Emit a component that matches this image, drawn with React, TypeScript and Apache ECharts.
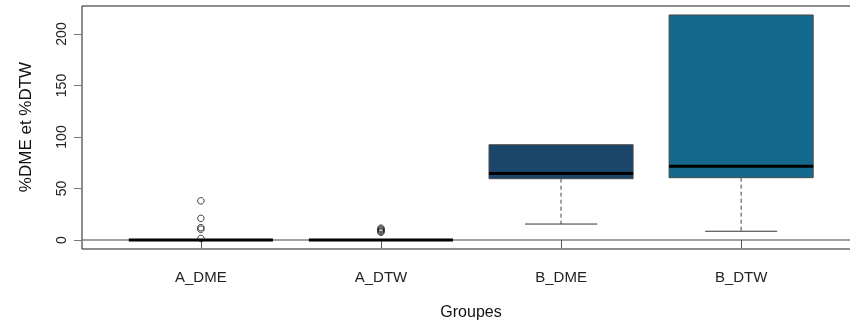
import React, { useEffect, useRef } from "react";
import * as echarts from "echarts";

const categories = ["A_DME", "A_DTW", "B_DME", "B_DTW"];
const lowerWhisker = [0, 0, 15.5, 8.5];
const q1 = [0, 0, 59.5, 60.5];
const median = [0, 0, 64.5, 71.5];
const q3 = [0, 0, 92.5, 218.5];
const upperWhisker = [0, 0, 92.5, 218.5];
const boxColors = ["#1b4569", "#13698b", "#1b4569", "#13698b"];
const outliersA_DME = [38, 21, 12, 10.5, 1.5];
const outliersA_DTW = [11.5, 10.5, 9.5, 8.5, 7.5];
const yTicks = [0, 50, 100, 150, 200];
const xTicks = [1, 2, 3, 4];
const yTitle = "%DME et %DTW";
const xTitle = "Groupes";

const FONT = "'Liberation Sans', Arial, sans-serif";

export default function App() {
  const ref = useRef<HTMLDivElement>(null);
  useEffect(() => {
    if (!ref.current) return;
    const chart = echarts.init(ref.current, null, { renderer: "svg" });
    const boxData = categories.map((_, i) => [
      i + 1,
      lowerWhisker[i],
      q1[i],
      median[i],
      q3[i],
      upperWhisker[i],
    ]);
    const outlierData: number[][] = [];
    outliersA_DME.forEach((v) => outlierData.push([1, v]));
    outliersA_DTW.forEach((v) => outlierData.push([2, v]));

    chart.setOption({
      animation: false,
      grid: {
        left: 82,
        top: 6,
        width: 778,
        height: 243,
        show: true,
        borderColor: "#1a1a1a",
        borderWidth: 1,
        backgroundColor: "transparent",
        outerBoundsMode: "none",
        containLabel: false,
      },
      xAxis: {
        type: "value",
        min: 0.34,
        max: 4.66,
        splitLine: { show: false },
        axisLine: { show: true, lineStyle: { color: "#808080", width: 1.5 } },
        axisTick: {
          show: true,
          customValues: xTicks,
          length: 8,
          lineStyle: { color: "#555", width: 1 },
        },
        axisLabel: {
          customValues: xTicks,
          formatter: (v: number) => categories[Math.round(v) - 1] ?? "",
          fontFamily: FONT,
          fontSize: 15,
          color: "#222",
          margin: 20,
        },
      },
      yAxis: {
        type: "value",
        min: -8.74,
        max: 227.2,
        splitLine: { show: false },
        axisLine: { show: false },
        axisTick: {
          show: true,
          customValues: yTicks,
          length: 8,
          lineStyle: { color: "#777", width: 1 },
        },
        axisLabel: {
          customValues: yTicks,
          rotate: 90,
          fontFamily: FONT,
          fontSize: 14,
          color: "#222",
          margin: 14,
        },
      },
      graphic: [
        {
          type: "text",
          x: 25,
          y: 127,
          rotation: Math.PI / 2,
          style: {
            text: yTitle,
            fontFamily: FONT,
            fontSize: 17,
            fill: "#111",
            align: "center",
            verticalAlign: "middle",
          },
        },
        {
          type: "text",
          x: 471,
          y: 311,
          style: {
            text: xTitle,
            fontFamily: FONT,
            fontSize: 16,
            fill: "#111",
            align: "center",
            verticalAlign: "middle",
          },
        },
      ],
      series: [
        {
          type: "custom",
          data: boxData,
          renderItem: (params: any, api: any) => {
            const x = api.value(0);
            const lw = api.value(1);
            const b1 = api.value(2);
            const md = api.value(3);
            const b3 = api.value(4);
            const uw = api.value(5);
            const idx = params.dataIndex;
            const half = api.size([0.8, 0])[0] / 2;
            const cap = half / 2;
            const pQ1 = api.coord([x, b1]);
            const pQ3 = api.coord([x, b3]);
            const pMd = api.coord([x, md]);
            const pLw = api.coord([x, lw]);
            const pUw = api.coord([x, uw]);
            const cx = pQ1[0];
            const children: any[] = [];
            if (lw < b1) {
              children.push({
                type: "line",
                shape: { x1: cx, y1: pQ1[1], x2: cx, y2: pLw[1] },
                style: { stroke: "#444", lineWidth: 1, lineDash: [4, 3] },
              });
              children.push({
                type: "line",
                shape: { x1: cx - cap, y1: pLw[1], x2: cx + cap, y2: pLw[1] },
                style: { stroke: "#333", lineWidth: 1 },
              });
            }
            if (uw > b3) {
              children.push({
                type: "line",
                shape: { x1: cx, y1: pQ3[1], x2: cx, y2: pUw[1] },
                style: { stroke: "#444", lineWidth: 1, lineDash: [4, 3] },
              });
              children.push({
                type: "line",
                shape: { x1: cx - cap, y1: pUw[1], x2: cx + cap, y2: pUw[1] },
                style: { stroke: "#333", lineWidth: 1 },
              });
            }
            children.push({
              type: "rect",
              shape: {
                x: cx - half,
                y: pQ3[1],
                width: 2 * half,
                height: Math.max(pQ1[1] - pQ3[1], 0),
              },
              style: { fill: boxColors[idx], stroke: "#4a4a4a", lineWidth: 1 },
            });
            children.push({
              type: "line",
              shape: { x1: cx - half, y1: pMd[1], x2: cx + half, y2: pMd[1] },
              style: { stroke: "#000", lineWidth: 3 },
            });
            return { type: "group", children };
          },
          z: 2,
        },
        {
          type: "scatter",
          data: outlierData,
          symbol: "circle",
          symbolSize: 6.5,
          itemStyle: {
            color: "rgba(255,255,255,0)",
            borderColor: "#111",
            borderWidth: 1,
          },
          z: 3,
        },
      ],
    });
    return () => chart.dispose();
  }, []);
  return (
    <div
      ref={ref}
      style={{ position: "fixed", left: 0, top: 0, width: 850, height: 322 }}
    />
  );
}
